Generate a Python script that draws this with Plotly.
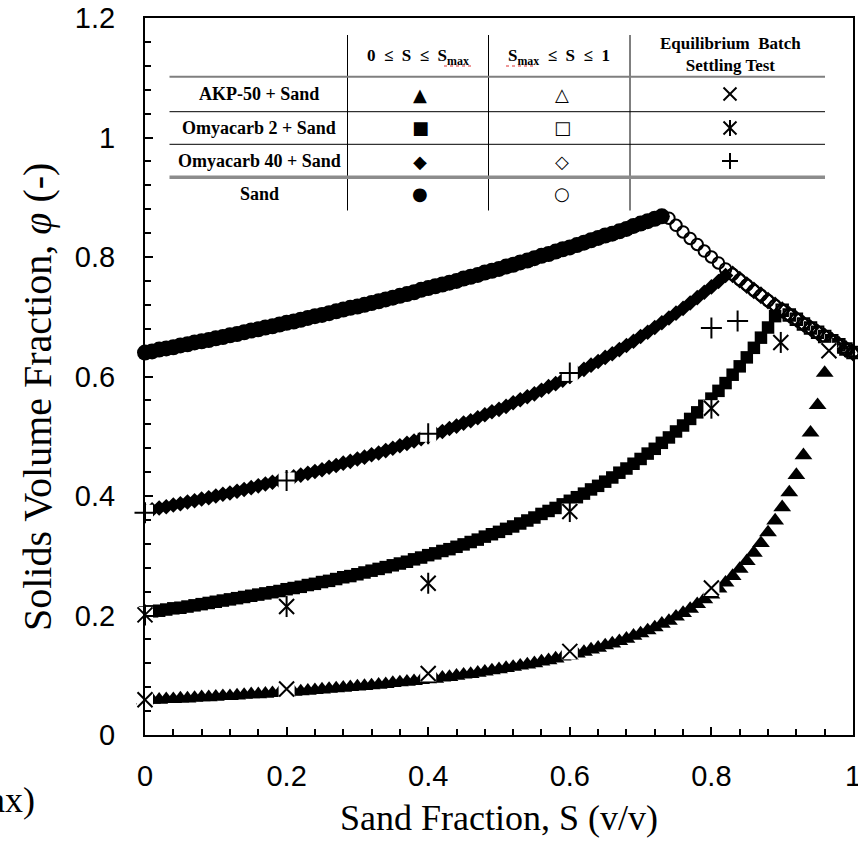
import plotly.graph_objects as go

# ---------------- data ----------------
S_grid = [0.00, 0.01, 0.02, 0.03, 0.04, 0.05, 0.06, 0.07, 0.08, 0.09,
          0.10, 0.11, 0.12, 0.13, 0.14, 0.15, 0.16, 0.17, 0.18, 0.19,
          0.20, 0.21, 0.22, 0.23, 0.24, 0.25, 0.26, 0.27, 0.28, 0.29,
          0.30, 0.31, 0.32, 0.33, 0.34, 0.35, 0.36, 0.37, 0.38, 0.39,
          0.40, 0.41, 0.42, 0.43, 0.44, 0.45, 0.46, 0.47, 0.48, 0.49,
          0.50, 0.51, 0.52, 0.53, 0.54, 0.55, 0.56, 0.57, 0.58, 0.59,
          0.60, 0.61, 0.62, 0.63, 0.64, 0.65, 0.66, 0.67, 0.68, 0.69,
          0.70, 0.71, 0.72, 0.73, 0.74, 0.75, 0.76, 0.77, 0.78, 0.79,
          0.80, 0.81, 0.82, 0.83, 0.84, 0.85, 0.86, 0.87, 0.88, 0.89,
          0.90, 0.91, 0.92, 0.93, 0.94, 0.95, 0.96, 0.97, 0.98, 0.99, 1.00]

# Sand (0 <= S <= Smax), S = 0.00 ... 0.73
sand_phi_fine = [0.640, 0.642, 0.645, 0.647, 0.649, 0.652, 0.654, 0.657, 0.659, 0.661,
                 0.664, 0.666, 0.669, 0.671, 0.674, 0.677, 0.679, 0.682, 0.684, 0.687,
                 0.690, 0.692, 0.695, 0.698, 0.701, 0.703, 0.706, 0.709, 0.712, 0.715,
                 0.717, 0.720, 0.723, 0.726, 0.729, 0.732, 0.735, 0.738, 0.741, 0.745,
                 0.748, 0.751, 0.754, 0.757, 0.760, 0.764, 0.767, 0.770, 0.774, 0.777,
                 0.780, 0.784, 0.787, 0.791, 0.794, 0.798, 0.802, 0.805, 0.809, 0.813,
                 0.816, 0.820, 0.824, 0.828, 0.832, 0.836, 0.839, 0.843, 0.847, 0.852,
                 0.856, 0.860, 0.864, 0.868]
# Smax <= S <= 1 branch, S = 0.74 ... 1.00
phi_coarse = [0.865, 0.853, 0.842, 0.831, 0.821, 0.810, 0.800, 0.790, 0.780, 0.771,
              0.762, 0.753, 0.744, 0.736, 0.727, 0.719, 0.711, 0.703, 0.696, 0.688,
              0.681, 0.674, 0.667, 0.660, 0.653, 0.646, 0.640]

# Omyacarb 40 + Sand, S = 0.00 ... 0.82
omya40_phi_fine = [0.375, 0.377, 0.380, 0.382, 0.385, 0.387, 0.390, 0.392, 0.395, 0.397,
                   0.400, 0.403, 0.405, 0.408, 0.411, 0.414, 0.417, 0.420, 0.423, 0.426,
                   0.429, 0.432, 0.435, 0.438, 0.441, 0.444, 0.448, 0.451, 0.455, 0.458,
                   0.462, 0.465, 0.469, 0.472, 0.476, 0.480, 0.484, 0.488, 0.492, 0.496,
                   0.500, 0.504, 0.508, 0.513, 0.517, 0.522, 0.526, 0.531, 0.536, 0.541,
                   0.545, 0.550, 0.556, 0.561, 0.566, 0.571, 0.577, 0.583, 0.588, 0.594,
                   0.600, 0.606, 0.612, 0.619, 0.625, 0.632, 0.638, 0.645, 0.652, 0.659,
                   0.667, 0.674, 0.682, 0.690, 0.698, 0.706, 0.714, 0.723, 0.732, 0.741,
                   0.750, 0.759, 0.769]

# Omyacarb 2 + Sand, S = 0.00 ... 0.89
omya2_phi_fine = [0.205, 0.207, 0.208, 0.210, 0.212, 0.213, 0.215, 0.217, 0.219, 0.221,
                  0.223, 0.225, 0.227, 0.229, 0.231, 0.233, 0.235, 0.237, 0.239, 0.241,
                  0.244, 0.246, 0.248, 0.251, 0.253, 0.256, 0.258, 0.261, 0.264, 0.266,
                  0.269, 0.272, 0.275, 0.278, 0.281, 0.284, 0.287, 0.290, 0.294, 0.297,
                  0.301, 0.304, 0.308, 0.311, 0.315, 0.319, 0.323, 0.327, 0.332, 0.336,
                  0.340, 0.345, 0.349, 0.354, 0.359, 0.364, 0.370, 0.375, 0.380, 0.386,
                  0.392, 0.398, 0.404, 0.411, 0.417, 0.424, 0.431, 0.439, 0.446, 0.454,
                  0.462, 0.471, 0.479, 0.489, 0.498, 0.508, 0.518, 0.529, 0.540, 0.551,
                  0.563, 0.576, 0.589, 0.603, 0.617, 0.632, 0.648, 0.665, 0.682, 0.701]

# AKP-50 + Sand, S = 0.00 ... 0.96
akp_phi_fine = [0.058, 0.059, 0.059, 0.060, 0.060, 0.061, 0.061, 0.062, 0.063, 0.063,
                0.064, 0.065, 0.065, 0.066, 0.067, 0.068, 0.068, 0.069, 0.070, 0.071,
                0.071, 0.072, 0.073, 0.074, 0.075, 0.076, 0.077, 0.078, 0.079, 0.080,
                0.081, 0.082, 0.083, 0.084, 0.085, 0.087, 0.088, 0.089, 0.090, 0.092,
                0.093, 0.094, 0.096, 0.097, 0.099, 0.101, 0.102, 0.104, 0.106, 0.108,
                0.110, 0.112, 0.114, 0.116, 0.118, 0.120, 0.123, 0.125, 0.128, 0.131,
                0.133, 0.136, 0.139, 0.143, 0.146, 0.150, 0.153, 0.157, 0.161, 0.166,
                0.170, 0.175, 0.180, 0.186, 0.191, 0.198, 0.204, 0.211, 0.219, 0.227,
                0.235, 0.245, 0.255, 0.266, 0.278, 0.291, 0.305, 0.321, 0.339, 0.359,
                0.381, 0.406, 0.435, 0.468, 0.506, 0.552, 0.606]

# Equilibrium batch settling tests
akp_exp_S = [0.0, 0.2, 0.4, 0.6, 0.8, 0.966]
akp_exp_phi = [0.059, 0.077, 0.103, 0.140, 0.246, 0.643]
omya2_exp_S = [0.0, 0.2, 0.4, 0.6, 0.8, 0.898]
omya2_exp_phi = [0.201, 0.215, 0.254, 0.374, 0.547, 0.657]
omya40_exp_S = [0.0, 0.2, 0.4, 0.6, 0.8, 0.837]
omya40_exp_phi = [0.372, 0.426, 0.504, 0.606, 0.681, 0.693]

x_tickvals = [0, 0.2, 0.4, 0.6, 0.8, 1.0]
x_ticktext = ["0", "0.2", "0.4", "0.6", "0.8", "1"]
y_tickvals = [0, 0.2, 0.4, 0.6, 0.8, 1.0, 1.2]
y_ticktext = ["0", "0.2", "0.4", "0.6", "0.8", "1", "1.2"]

table_rows = ["AKP-50 + Sand", "Omyacarb 2 + Sand", "Omyacarb 40 + Sand", "Sand"]

# ---------------- figure ----------------
fig = go.Figure()


def model(S, phi, symbol, size, lw=0):
    fig.add_trace(go.Scatter(
        x=S, y=phi, mode="markers", cliponaxis=False, showlegend=False,
        marker=dict(symbol=symbol, size=size, color="black",
                    line=dict(color="black", width=lw))))


n_akp = len(akp_phi_fine)
n_o2 = len(omya2_phi_fine)
n_o40 = len(omya40_phi_fine)
n_sand = len(sand_phi_fine)
off = n_sand  # phi_coarse starts at S_grid[n_sand]

model(S_grid[:n_akp], akp_phi_fine, "triangle-up", 15.5)
model(S_grid[n_akp:], phi_coarse[n_akp - off:], "triangle-up-open", 15, 2)
model(S_grid[:n_o2], omya2_phi_fine, "square", 12.5)
model(S_grid[n_o2:], phi_coarse[n_o2 - off:], "square-open", 11.5, 2)
model(S_grid[:n_o40], omya40_phi_fine, "diamond", 12)
model(S_grid[n_o40:], phi_coarse[n_o40 - off:], "diamond-open", 11.5, 2)
model(S_grid[:n_sand], sand_phi_fine, "circle", 16)
model(S_grid[n_sand:], phi_coarse, "circle-open", 11.5, 2)


def exp(S, phi, symbols):
    fig.add_trace(go.Scatter(
        x=S, y=phi, mode="markers", cliponaxis=False, showlegend=False,
        marker=dict(symbol="square", size=16, color="white", line=dict(width=0))))
    for sym in symbols:
        fig.add_trace(go.Scatter(
            x=S, y=phi, mode="markers", cliponaxis=False, showlegend=False,
            marker=dict(symbol=sym, size=15, color="black",
                        line=dict(color="black", width=2))))


exp(akp_exp_S, akp_exp_phi, ["x-thin-open"])
exp(omya2_exp_S, omya2_exp_phi, ["x-thin-open", "line-ns-open"])
exp(omya40_exp_S, omya40_exp_phi, ["cross-thin-open"])

# ---------------- table drawn inside the plot ----------------
L, R, T, B = 145, 853, 18, 735
W, H = 858, 849


def px(xp):
    return (xp - L) / (R - L)


def py(yp):
    return (B - yp) / (B - T)


shapes = []
for xv in [347.5, 488.5, 630]:
    shapes.append(dict(type="line", xref="paper", yref="paper",
                       x0=px(xv), x1=px(xv), y0=py(35), y1=py(210.5),
                       line=dict(color="black", width=1)))
for yv, col, w in [(76.7, "#7f7f7f", 2), (111.7, "black", 1),
                   (144.3, "black", 1), (177.3, "#8c8c8c", 3.5)]:
    shapes.append(dict(type="line", xref="paper", yref="paper",
                       x0=px(169.5), x1=px(825), y0=py(yv), y1=py(yv),
                       line=dict(color=col, width=w)))

# red spell-check squiggles under "max"
for x0, x1 in [(444, 473), (506, 536)]:
    shapes.append(dict(type="line", xref="paper", yref="paper",
                       x0=px(x0), x1=px(x1), y0=py(66), y1=py(66),
                       line=dict(color="#e03030", width=1.2, dash="dot")))


def seg(x0, y0, x1, y1, w=2):
    shapes.append(dict(type="line", xref="paper", yref="paper",
                       x0=px(x0), x1=px(x1), y0=py(y0), y1=py(y1),
                       line=dict(color="black", width=w)))


# settling-test symbols in the table (x, star, plus)
cx = 730
for cy in (94, 128):
    seg(cx - 6.5, cy - 6.5, cx + 6.5, cy + 6.5)
    seg(cx - 6.5, cy + 6.5, cx + 6.5, cy - 6.5)
seg(cx, 128 - 8, cx, 128 + 8)
seg(cx - 8, 161, cx + 8, 161)
seg(cx, 161 - 8, cx, 161 + 8)

annotations = []
serif = "Liberation Serif"
row_y = [94, 128, 161, 194]
for name, yv in zip(table_rows, row_y):
    annotations.append(dict(text="<b>" + name + "</b>", x=px(259), y=py(yv),
                            xref="paper", yref="paper", showarrow=False,
                            xanchor="center", yanchor="middle",
                            font=dict(family=serif, size=18, color="black")))
sp = "\u00a0\u00a0"
annotations.append(dict(text="<b>0" + sp + "≤" + sp + "S" + sp + "≤" + sp + "S<sub>max</sub></b>",
                        x=px(418), y=py(57), xref="paper", yref="paper", showarrow=False,
                        xanchor="center", yanchor="middle",
                        font=dict(family=serif, size=17, color="black")))
annotations.append(dict(text="<b>S<sub>max</sub>" + sp + "≤" + sp + "S" + sp + "≤" + sp + "1</b>",
                        x=px(559), y=py(57), xref="paper", yref="paper", showarrow=False,
                        xanchor="center", yanchor="middle",
                        font=dict(family=serif, size=17, color="black")))
annotations.append(dict(text="<b>Equilibrium\u00a0 Batch<br>Settling Test</b>",
                        x=px(730), y=py(55), xref="paper", yref="paper", showarrow=False,
                        xanchor="center", yanchor="middle",
                        font=dict(family=serif, size=17, color="black")))

glyph_font = "DejaVu Sans"
glyphs = [
    ("▲", 420, 94, 18), ("△", 562, 94, 18),
    ("■", 420, 128, 18), ("□", 562, 128, 18),
    ("◆", 420, 161, 18), ("◇", 562, 161, 18),
    ("●", 420, 194, 18), ("○", 562, 194, 18),
]
for g, xv, yv, fs in glyphs:
    annotations.append(dict(text=g, x=px(xv), y=py(yv), xref="paper", yref="paper",
                            showarrow=False, xanchor="center", yanchor="middle",
                            font=dict(family=glyph_font, size=fs, color="black")))

# y-axis title (placed like the reference, slightly below the axis middle)
annotations.append(dict(text="Solids Volume Fraction, <i>φ</i> (-)", textangle=-90,
                        x=(37 - L) / (R - L), y=py(397), xref="paper", yref="paper",
                        showarrow=False, xanchor="center", yanchor="middle",
                        font=dict(family=serif, size=40, color="black")))

# partially visible caption at lower-left
annotations.append(dict(text="ax)", x=px(37), y=py(800), xref="paper", yref="paper",
                        showarrow=False, xanchor="right", yanchor="middle",
                        font=dict(family=serif, size=36, color="black")))

axis_common = dict(showline=True, linewidth=2, linecolor="black", mirror=True,
                   ticks="inside", ticklen=8, tickwidth=2, tickcolor="black",
                   showgrid=False, zeroline=False, ticklabeloverflow="allow",
                   tickfont=dict(family="Liberation Sans", size=29, color="black"))

fig.update_layout(
    width=W, height=H,
    margin=dict(l=L, r=W - R, t=T, b=H - B, autoexpand=False),
    paper_bgcolor="white", plot_bgcolor="white",
    showlegend=False,
    xaxis=dict(range=[0, 1], tickvals=x_tickvals, ticktext=x_ticktext,
               minor=dict(dtick=0.04, ticks="inside", ticklen=6, tickwidth=1.5,
                          tickcolor="black", showgrid=False),
               ticklabelstandoff=14,
               title=dict(text="Sand Fraction, S (v/v)", standoff=14,
                          font=dict(family=serif, size=36, color="black")),
               **axis_common),
    yaxis=dict(range=[0, 1.2], tickvals=y_tickvals, ticktext=y_ticktext,
               minor=dict(dtick=0.04, ticks="inside", ticklen=6, tickwidth=1.5,
                          tickcolor="black", showgrid=False),
               ticklabelstandoff=22,
               **axis_common),
    shapes=shapes,
    annotations=annotations,
)

fig.write_html("out.html")
